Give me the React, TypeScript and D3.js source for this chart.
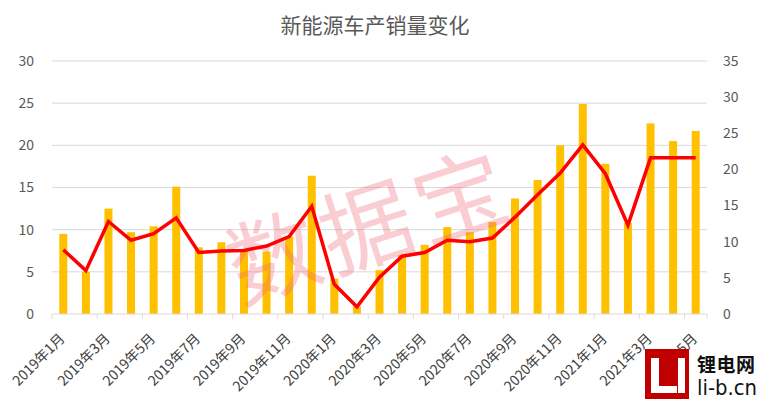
import React from "react";
import * as d3 from "d3";

const months = [
  "2019年1月", "2019年2月", "2019年3月", "2019年4月", "2019年5月", "2019年6月",
  "2019年7月", "2019年8月", "2019年9月", "2019年10月", "2019年11月", "2019年12月",
  "2020年1月", "2020年2月", "2020年3月", "2020年4月", "2020年5月", "2020年6月",
  "2020年7月", "2020年8月", "2020年9月", "2020年10月", "2020年11月", "2020年12月",
  "2021年1月", "2021年2月", "2021年3月", "2021年4月", "2021年5月",
];

// bars, left axis
const barValues = [
  9.5, 5.0, 12.5, 9.7, 10.4, 15.1, 7.9, 8.5, 7.7, 7.4, 9.2, 16.4, 4.2, 0.9, 5.2,
  7.0, 8.2, 10.3, 9.7, 10.9, 13.7, 15.9, 20.0, 24.9, 17.8, 10.8, 22.6, 20.5, 21.7,
];

// red line, right axis
const lineValues = [
  8.9, 6.0, 12.8, 10.2, 11.1, 13.3, 8.5, 8.7, 8.8, 9.4, 10.7, 14.9, 4.1, 1.0, 5.1,
  8.0, 8.5, 10.2, 10.0, 10.5, 13.4, 16.5, 19.5, 23.4, 19.4, 12.3, 21.6, 21.6, 21.6,
];

const leftTicks = [0, 5, 10, 15, 20, 25, 30];
const rightTicks = [0, 5, 10, 15, 20, 25, 30, 35];

const title = "新能源车产销量变化";

const W = 760;
const H = 399;
const margin = { top: 61, right: 53, bottom: 85, left: 52 };

const font = "'Noto Sans CJK SC', 'Noto Sans', sans-serif";
const textColor = "#595959";

export default function App() {
  const plotW = W - margin.left - margin.right;
  const plotH = H - margin.top - margin.bottom;

  const x = d3.scaleBand().domain(months).range([0, plotW]).paddingInner(0).paddingOuter(0);
  const barW = 8;
  const yL = d3.scaleLinear().domain([0, 30]).range([plotH, 0]);
  const yR = d3.scaleLinear().domain([0, 35]).range([plotH, 0]);

  const line = d3
    .line<number>()
    .x((_, i) => (x(months[i]) || 0) + x.bandwidth() / 2)
    .y((d) => yR(d))
    .curve(d3.curveLinear);

  const boundaryTicks = d3.range(0, months.length + 1, 2).map((k) => k * x.bandwidth());
  if (boundaryTicks[boundaryTicks.length - 1] !== plotW) boundaryTicks.push(plotW);

  return (
    <svg
      width={W}
      height={H}
      style={{ position: "absolute", left: 0, top: 0, background: "#fff" }}
      fontFamily={font}
    >
      <rect width={W} height={H} fill="#fff" />
      <text x={375} y={33} textAnchor="middle" fontSize={21} fill={textColor}>
        {title}
      </text>

      <g transform={`translate(${margin.left},${margin.top})`}>
        {/* gridlines */}
        {leftTicks.slice(1).map((t) => (
          <line key={t} x1={0} x2={plotW} y1={yL(t)} y2={yL(t)} stroke="#d9d9d9" strokeWidth={1} />
        ))}

        {/* left axis labels */}
        {leftTicks.map((t) => (
          <text key={t} x={-18} y={yL(t)} dy="0.35em" textAnchor="end" fontSize={14} fill={textColor}>
            {t}
          </text>
        ))}
        {/* right axis labels */}
        {rightTicks.map((t) => (
          <text key={t} x={plotW + 16} y={yR(t)} dy="0.35em" textAnchor="start" fontSize={14} fill={textColor}>
            {t}
          </text>
        ))}

        {/* bars */}
        {barValues.map((v, i) => (
          <rect
            key={i}
            x={(x(months[i]) || 0) + x.bandwidth() / 2 - barW / 2}
            y={yL(v)}
            width={barW}
            height={plotH - yL(v)}
            fill="#ffc000"
          />
        ))}

        {/* x axis */}
        <line x1={0} x2={plotW} y1={plotH} y2={plotH} stroke="#d9d9d9" strokeWidth={1} />
        {boundaryTicks.map((bx, i) => (
          <line key={i} x1={bx} x2={bx} y1={plotH} y2={plotH + 5} stroke="#d9d9d9" />
        ))}
        {months.map((m, i) =>
          i % 2 === 0 ? (
            <text
              key={m}
              transform={`translate(${(x(m) || 0) + x.bandwidth() / 2 - 1},${plotH + 22}) rotate(-45)`}
              textAnchor="end"
              dy="0.35em"
              fontSize={14}
              fill="#404040"
            >
              {m}
            </text>
          ) : null
        )}

        {/* watermark */}
        <text
          transform={`translate(${370 - margin.left},${228 - margin.top}) rotate(-18)`}
          textAnchor="middle"
          dy="0.35em"
          fontSize={92}
          fill="rgba(240,100,115,0.32)"
          letterSpacing={6}
        >
          数据宝
        </text>

        {/* line */}
        <path d={line(lineValues) || ""} fill="none" stroke="#ff0000" strokeWidth={3.5} strokeLinejoin="miter" />
      </g>

      {/* logo */}
      <g>
        <rect x={645} y={349} width={44} height={50} fill="#c00000" />
        <rect x={651} y={358} width={8} height={35} fill="#fff" />
        <rect x={651} y={386} width={26} height={7} fill="#fff" />
        <rect x={678} y={358} width={7} height={35} fill="#fff" />
        <text x={697} y={372} fontSize={19} fontWeight="bold" fill="#111" textLength={58} lengthAdjust="spacing">
          锂电网
        </text>
        <text
          x={697}
          y={395}
          fontSize={22}
          fill="#111"
          textLength={60}
          lengthAdjust="spacingAndGlyphs"
          fontFamily="'DejaVu Sans Condensed', 'Liberation Sans Narrow', sans-serif"
        >
          li-b.cn
        </text>
      </g>
    </svg>
  );
}
